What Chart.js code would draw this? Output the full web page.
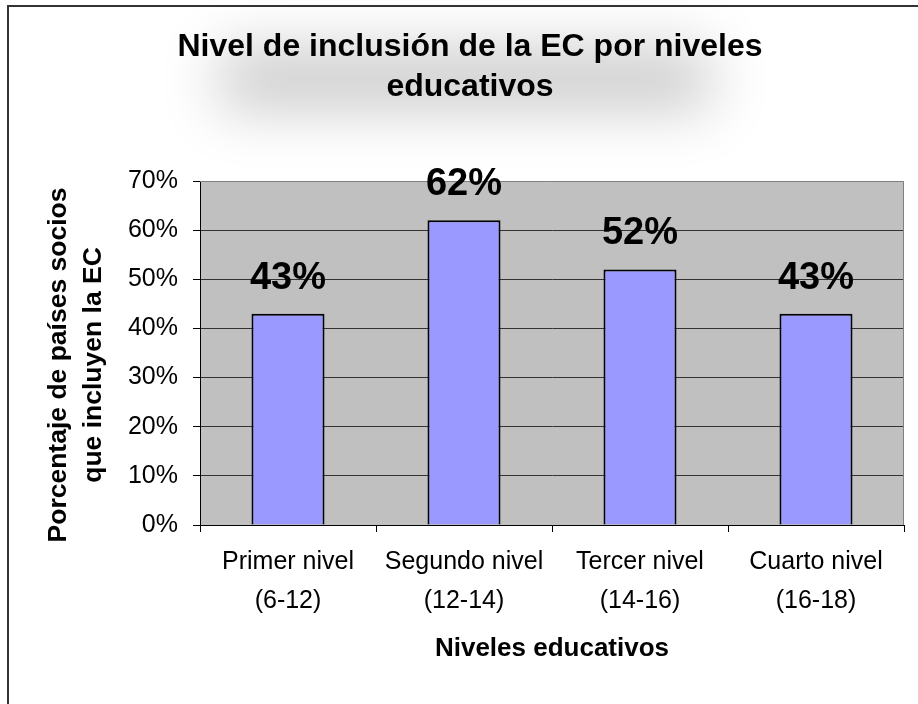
<!DOCTYPE html>
<html>
<head>
<meta charset="utf-8">
<script src="https://cdn.jsdelivr.net/npm/chart.js@4"></script>
<style>
  html, body { margin: 0; padding: 0; background: #fff; }
  #wrap { width: 918px; height: 704px; }
</style>
</head>
<body>
<div id="wrap"><canvas id="myChart"></canvas></div>
<script>
var FONT = 'Arial, "Liberation Sans", sans-serif';
var categories = [['Primer nivel', '(6-12)'], ['Segundo nivel', '(12-14)'], ['Tercer nivel', '(14-16)'], ['Cuarto nivel', '(16-18)']];
var values = [43, 62, 52, 43];
var yTitle = ['Porcentaje de países socios', 'que incluyen la EC'];
var yMax = 70;
var yStep = 10;

var decor = {
	id: 'decor',
	beforeDraw: function (chart) {
		var ctx = chart.ctx, a = chart.chartArea;
		ctx.save();
		ctx.fillStyle = '#fff';
		ctx.fillRect(0, 0, chart.width, chart.height);
		// soft gray glow behind the title
		ctx.shadowColor = 'rgba(0,0,0,0.22)';
		ctx.shadowBlur = 60;
		ctx.shadowOffsetX = 3000;
		ctx.fillStyle = '#000';
		ctx.fillRect(220 - 3000, 50, 490, 58);
		ctx.restore();
		ctx.save();
		// outer frame (top and left only, the rest is cut off)
		ctx.strokeStyle = '#333';
		ctx.lineWidth = 2;
		ctx.beginPath();
		ctx.moveTo(8, chart.height);
		ctx.lineTo(8, 6);
		ctx.lineTo(chart.width, 6);
		ctx.stroke();
		// plot area background
		ctx.fillStyle = '#c0c0c0';
		ctx.fillRect(a.left, a.top, a.right - a.left, a.bottom - a.top);
		ctx.restore();
	},
	beforeDatasetsDraw: function (chart) {
		var ctx = chart.ctx, a = chart.chartArea;
		ctx.save();
		ctx.strokeStyle = '#808080';
		ctx.lineWidth = 1;
		ctx.beginPath();
		ctx.moveTo(a.left, a.top + 0.5);
		ctx.lineTo(a.right - 0.5, a.top + 0.5);
		ctx.lineTo(a.right - 0.5, a.bottom);
		ctx.stroke();
		ctx.restore();
	},
	afterDatasetsDraw: function (chart) {
		var ctx = chart.ctx, a = chart.chartArea;
		ctx.save();
		ctx.fillStyle = '#000';
		ctx.font = 'bold 38px ' + FONT;
		ctx.textAlign = 'center';
		ctx.textBaseline = 'alphabetic';
		chart.getDatasetMeta(0).data.forEach(function (bar, i) {
			ctx.fillText(values[i] + '%', bar.x, bar.y - 25);
		});
		ctx.restore();
		// y axis title, sits a little below the plot centre
		ctx.save();
		ctx.fillStyle = '#000';
		ctx.font = 'bold 26.5px ' + FONT;
		ctx.textAlign = 'center';
		ctx.textBaseline = 'middle';
		ctx.translate(0, (a.top + a.bottom) / 2 + 12);
		ctx.rotate(-Math.PI / 2);
		ctx.fillText(yTitle[0], 0, 59);
		ctx.fillText(yTitle[1], 0, 94);
		ctx.restore();
	}
};

var chart = new Chart('myChart', {
	type: 'bar',
	data: {
		labels: categories,
		datasets: [{
			data: values,
			backgroundColor: '#9999ff',
			borderColor: '#000',
			borderWidth: 2,
			barPercentage: 0.415,
			categoryPercentage: 1
		}]
	},
	options: {
		responsive: true,
		maintainAspectRatio: false,
		animation: false,
		layout: {
			padding: { left: 36, right: 14, top: 0, bottom: 0 }
		},
		plugins: {
			legend: { display: false },
			tooltip: { enabled: false },
			title: {
				display: true,
				text: ['Nivel de inclusión de la EC por niveles', 'educativos'],
				color: '#000',
				font: { family: FONT, size: 32, weight: 'bold', lineHeight: 1.25 },
				padding: { top: 27, bottom: 74 }
			}
		},
		scales: {
			x: {
				afterFit: function (scale) { scale.height = 179; },
				grid: {
					offset: true,
					drawOnChartArea: false,
					drawTicks: true,
					tickLength: 7,
					color: '#000'
				},
				border: { color: '#000', width: 1 },
				ticks: {
					color: '#000',
					font: { family: FONT, size: 25, lineHeight: 1.54 },
					padding: 11,
					maxRotation: 0,
					autoSkip: false
				},
				title: {
					display: true,
					text: 'Niveles educativos',
					color: '#000',
					font: { family: FONT, size: 26, weight: 'bold', lineHeight: 1.2 },
					padding: { top: 0, bottom: 40 }
				}
			},
			y: {
				min: 0,
				max: yMax,
				afterFit: function (scale) { scale.width = 164; },
				grid: {
					color: function (c) { return c.tick && c.tick.value === yMax ? 'rgba(0,0,0,0)' : '#333'; },
					tickColor: '#000',
					tickLength: 7
				},
				border: { color: '#000', width: 1 },
				ticks: {
					stepSize: yStep,
					color: '#000',
					font: { family: FONT, size: 25 },
					padding: 15,
					callback: function (v) { return v + '%'; }
				}
			}
		}
	},
	plugins: [decor]
});
</script>
</body>
</html>
